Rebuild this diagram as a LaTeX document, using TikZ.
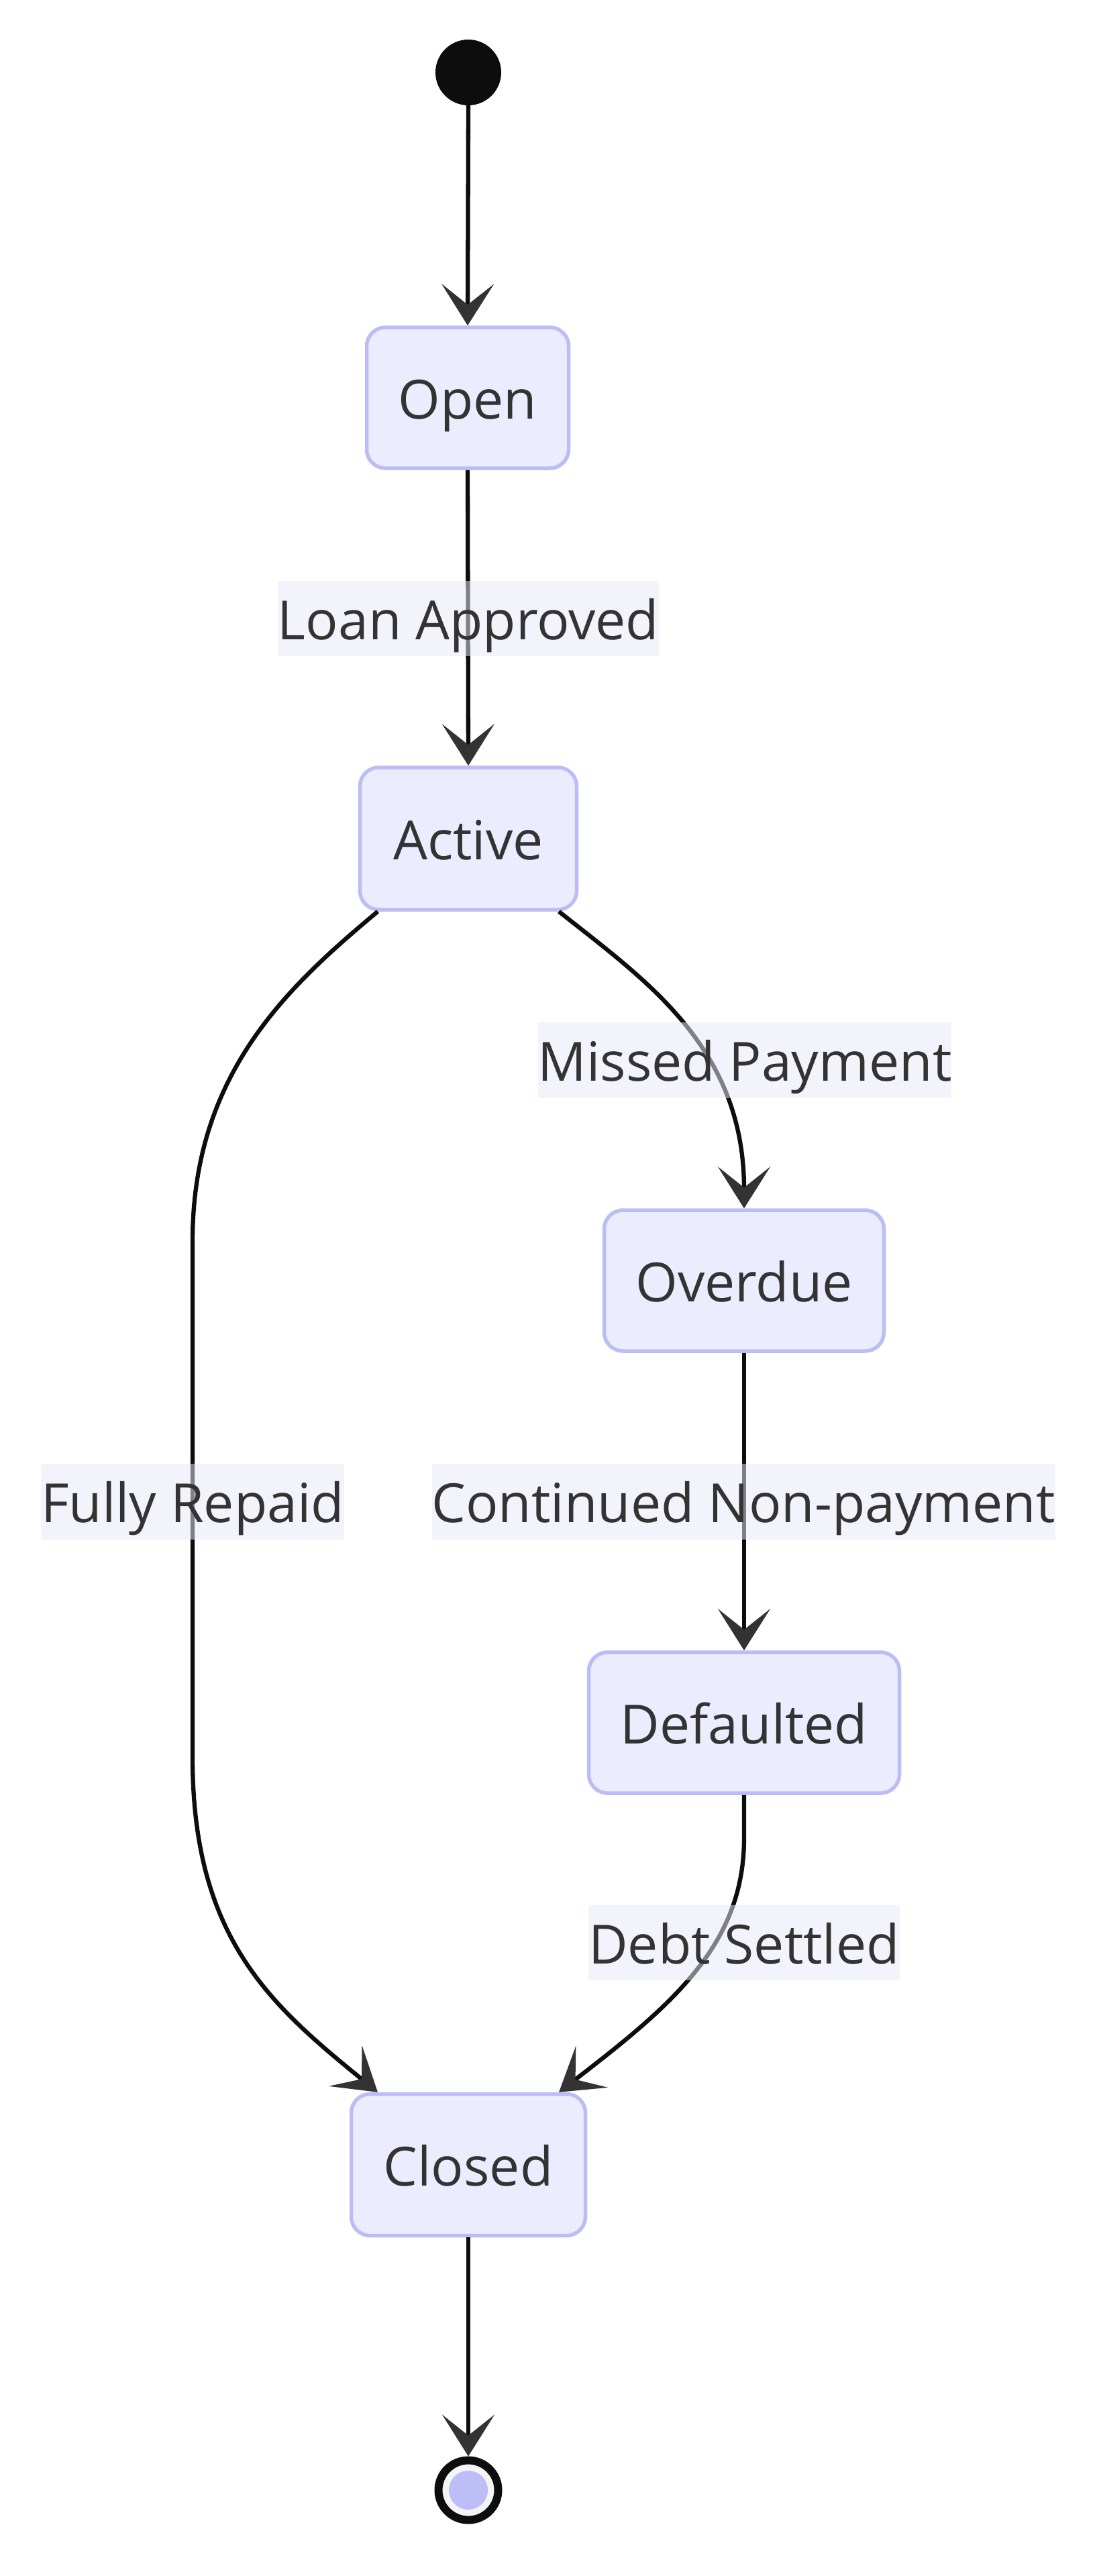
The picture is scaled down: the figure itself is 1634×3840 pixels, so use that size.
\documentclass[tikz,border=0pt]{standalone}
\usepackage{fontspec}
\setmainfont{Open Sans}
\usetikzlibrary{arrows.meta,calc}
\definecolor{boxfill}{RGB}{236,236,255}
\definecolor{boxline}{RGB}{189,189,246}
\definecolor{edgec}{RGB}{13,13,13}
\definecolor{tipc}{RGB}{51,51,51}
\definecolor{txtc}{RGB}{51,51,51}
\definecolor{lblbg}{RGB}{232,232,247}
\definecolor{endin}{RGB}{189,189,247}
\definecolor{endbg}{RGB}{244,244,244}
\newcommand{\lbfont}{\fontsize{80.5}{97}\selectfont}
\begin{document}
\begin{tikzpicture}[x=1pt,y=-1pt,
  state/.style={draw=boxline, line width=5.5pt, fill=boxfill, rounded corners=28pt, inner sep=0pt,
    text=txtc, font=\lbfont, text height=87pt, text depth=25pt},
  trans/.style={draw=edgec, line width=6.3pt, -{Stealth[length=62pt,width=78pt,inset=31pt,color=tipc]}},
  elabel/.style={fill=lblbg, fill opacity=0.52, text opacity=1, text=txtc, inner sep=0pt,
    font=\lbfont, text height=87pt, text depth=25pt}
]
\path[use as bounding box] (0,0) rectangle (1634,3840);

% states
\node[circle, fill=edgec, minimum size=98pt, inner sep=0pt] (startst) at (698,108) {};
\node[state, minimum width=301pt, minimum height=210pt] (open) at (697,593) {Open};
\node[state, minimum width=323pt, minimum height=212pt] (active) at (698,1250) {Active};
\node[state, minimum width=417pt, minimum height=210pt] (overdue) at (1109,1909) {Overdue};
\node[state, minimum width=463pt, minimum height=210pt] (defaulted) at (1109,2568) {Defaulted};
\node[state, minimum width=349pt, minimum height=211pt] (closed) at (698,3227) {Closed};
\node[circle, draw=edgec, line width=12pt, fill=endbg, minimum size=89pt, inner sep=0pt] (endst) at (698,3712) {};
\fill[endin] (endst.center) circle (29pt);

% transitions
\draw[trans] (startst.south) -- (open.north);
\draw[trans] (open.south) -- (active.north);
\draw[trans] ($(active.south)+(135,0)$) .. controls (960,1460) and (1109,1560) .. (overdue.north);
\draw[trans] (overdue.south) -- (defaulted.north);
\draw[trans] (defaulted.south) -- (1109,2740) .. controls (1109,2900) and (1000,2990) .. ($(closed.north)+(135,0)$);
\draw[trans] ($(active.south)+(-135,0)$) .. controls (430,1470) and (287,1600) .. (287,1850)
   -- (287,2620) .. controls (287,2890) and (405,2990) .. ($(closed.north)+(-135,0)$);
\draw[trans] (closed.south) -- (endst.north);

% labels
\node[elabel, minimum width=567pt, minimum height=112pt] (lbla) at (698,922) {Loan Approved};
\node[elabel, minimum width=615pt, minimum height=113pt] (lblm) at (1110,1580) {Missed Payment};
\node[elabel, minimum width=450pt, minimum height=113pt] (lblf) at (287,2238) {Fully Repaid};
\node[elabel, minimum width=925pt, minimum height=113pt] (lblc) at (1108,2238) {Continued Non-payment};
\node[elabel, minimum width=463pt, minimum height=112pt] (lbld) at (1109,2896) {Debt Settled};
\end{tikzpicture}
\end{document}
